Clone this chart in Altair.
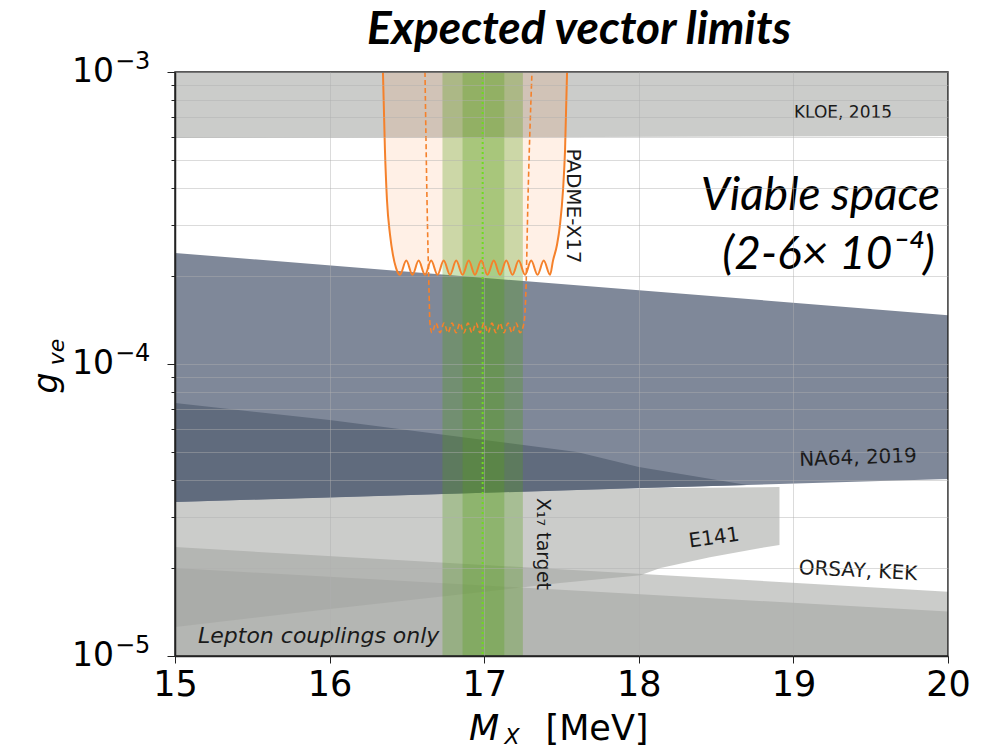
import altair as alt
import pandas as pd

# ---------------- data ----------------
kloe_x = [15.0, 20.0]
kloe_lo = [5.94e-4, 6.04e-4]
kloe_hi = [1e-3, 1e-3]

na64_x = [15.0, 20.0]
na64_hi = [2.40e-4, 1.47e-4]
na64_lo = [3.37e-5, 4.04e-5]

na64b_x = [15.0, 16.0, 17.0, 17.6, 18.0, 18.7]
na64b_hi = [7.35e-5, 6.43e-5, 5.49e-5, 5.0e-5, 4.44e-5, 3.85e-5]
na64b_lo = [3.37e-5, 3.49e-5, 3.62e-5, 3.70e-5, 3.76e-5, 3.85e-5]

e141_x = [15.0, 16.0, 17.0, 17.49, 18.01, 18.14, 18.46, 18.78, 18.91]
e141_hi = [3.6e-5, 3.65e-5, 3.7e-5, 3.72e-5, 3.75e-5, 3.76e-5, 3.77e-5, 3.78e-5, 3.79e-5]
e141_lo = [1.256e-5, 1.45e-5, 1.66e-5, 1.78e-5, 1.89e-5, 2.0e-5, 2.18e-5, 2.34e-5, 2.40e-5]

orsay_x = [15.0, 20.0]
orsay_hi = [2.36e-5, 1.66e-5]
orsay_lo = [1e-5, 1e-5]

kek_x = [15.0, 20.0]
kek_hi = [2.0e-5, 1.42e-5]
kek_lo = [1e-5, 1e-5]

# X17 target bands
band_outer = [16.73, 17.25]
band_inner = [16.86, 17.13]
target_center = [16.99]

# PADME-X17 expected limit (solid)
padme_x = [16.345, 16.358, 16.371, 16.391, 16.410, 16.430,
           16.455, 16.496, 16.536, 16.576, 16.617, 16.657, 16.698, 16.738,
           16.779, 16.819, 16.860, 16.900, 16.940, 16.981, 17.021, 17.062,
           17.102, 17.143, 17.183, 17.223, 17.264, 17.304, 17.345, 17.385,
           17.426,
           17.445, 17.471, 17.490, 17.510, 17.523, 17.536]
padme_g = [1e-3, 5.41e-4, 3.65e-4, 2.77e-4, 2.36e-4, 2.13e-4,
           2.02e-4, 2.26e-4, 2.02e-4, 2.26e-4, 2.02e-4, 2.26e-4, 2.02e-4, 2.26e-4,
           2.02e-4, 2.26e-4, 2.02e-4, 2.26e-4, 2.02e-4, 2.26e-4, 2.02e-4, 2.26e-4,
           2.02e-4, 2.26e-4, 2.02e-4, 2.26e-4, 2.02e-4, 2.26e-4, 2.02e-4, 2.26e-4,
           2.02e-4,
           2.26e-4, 2.56e-4, 2.99e-4, 3.95e-4, 5.41e-4, 1e-3]

# PADME-X17 (dashed)
padme2_x = [16.617, 16.630, 16.643, 16.649,
            16.662, 16.688, 16.714, 16.740, 16.766, 16.792, 16.818, 16.843,
            16.869, 16.895, 16.921, 16.947, 16.973, 16.999, 17.025, 17.050,
            17.076, 17.102, 17.128, 17.154, 17.180, 17.206, 17.232,
            17.257, 17.270, 17.283, 17.309]
padme2_g = [1e-3, 3.65e-4, 1.79e-4, 1.38e-4,
            1.28e-4, 1.38e-4, 1.28e-4, 1.38e-4, 1.28e-4, 1.38e-4, 1.28e-4, 1.38e-4,
            1.28e-4, 1.38e-4, 1.28e-4, 1.38e-4, 1.28e-4, 1.38e-4, 1.28e-4, 1.38e-4,
            1.28e-4, 1.38e-4, 1.28e-4, 1.38e-4, 1.28e-4, 1.38e-4, 1.28e-4,
            1.38e-4, 1.79e-4, 3.65e-4, 1e-3]

x_ticks = [15, 16, 17, 18, 19, 20]
y_ticks = [1e-5, 2e-5, 3e-5, 4e-5, 5e-5, 6e-5, 7e-5, 8e-5, 9e-5,
           1e-4, 2e-4, 3e-4, 4e-4, 5e-4, 6e-4, 7e-4, 8e-4, 9e-4, 1e-3]
y_decades = [1e-3, 1e-4, 1e-5]
y_exponents = ["\u22123", "\u22124", "\u22125"]

# ---------------- encodings ----------------
W, H = 773, 584
xscale = alt.Scale(domain=[15, 20], nice=False, zero=False)
yscale = alt.Scale(type="log", domain=[1e-5, 1e-3], nice=False)

xaxis = alt.Axis(values=x_ticks, title=None, labelFontSize=35, labelFont="DejaVu Sans",
                 labelColor="black", tickSize=7, tickColor="#222", domainColor="#222",
                 domainWidth=1.5, labelPadding=4, grid=True, gridColor="#b0b0b0",
                 gridOpacity=0.45, zindex=1, labelFlush=False)
yaxis = alt.Axis(values=y_ticks, title=None, labels=False,
                 tickSize={"condition": {"test": "datum.value == 0.001 || datum.value == 0.0001 || datum.value == 0.00001", "value": 8}, "value": 4},
                 tickColor="#222", domainColor="#222", domainWidth=1.5,
                 grid=True, gridColor="#b0b0b0", gridOpacity=0.45, zindex=1)

X = alt.X("x:Q", scale=xscale, axis=xaxis)
Y = alt.Y("hi:Q", scale=yscale, axis=yaxis)


def band(xs, his, los, color, opacity):
    df = pd.DataFrame({"x": xs, "hi": his, "lo": los})
    return alt.Chart(df).mark_area(color=color, opacity=opacity, interpolate="linear").encode(
        x=X, y=Y, y2="lo:Q")


GRAY = "#a2a4a1"
GOP = 0.56
kloe = band(kloe_x, kloe_hi, kloe_lo, GRAY, GOP)
kek = band(kek_x, kek_hi, kek_lo, GRAY, GOP)
orsay = band(orsay_x, orsay_hi, orsay_lo, GRAY, GOP)
e141 = band(e141_x, e141_hi, e141_lo, GRAY, GOP)
na64 = band(na64_x, na64_hi, na64_lo, "#7f8899", 1.0)
na64b = band(na64b_x, na64b_hi, na64b_lo, "#606b7d", 1.0)

padme_df = pd.DataFrame({"x": padme_x, "hi": padme_g})
padme_fill = alt.Chart(padme_df).mark_area(color="#ff8a3a", opacity=0.13, interpolate="monotone").encode(
    x=X, y=Y, y2=alt.datum(1e-3))
padme_line = alt.Chart(padme_df).mark_line(color="#f5812b", strokeWidth=2, interpolate="monotone").encode(
    x=X, y=Y)
padme2_df = pd.DataFrame({"x": padme2_x, "hi": padme2_g})
padme2_line = alt.Chart(padme2_df).mark_line(color="#f5812b", strokeWidth=1.6, strokeDash=[5, 3],
                                             interpolate="monotone").encode(x=X, y=Y)

GREEN = "#55a018"
outer_df = pd.DataFrame({"x": [band_outer[0]], "x2": [band_outer[1]]})
inner_df = pd.DataFrame({"x": [band_inner[0]], "x2": [band_inner[1]]})
green_outer = alt.Chart(outer_df).mark_rect(color=GREEN, opacity=0.3).encode(
    x=X, x2="x2:Q", y=alt.datum(1e-3), y2=alt.datum(1e-5))
green_inner = alt.Chart(inner_df).mark_rect(color=GREEN, opacity=0.3).encode(
    x=X, x2="x2:Q", y=alt.datum(1e-3), y2=alt.datum(1e-5))
center_df = pd.DataFrame({"x": target_center})
green_line = alt.Chart(center_df).mark_rule(color="#6edc1e", strokeWidth=2, strokeDash=[2, 3]).encode(
    x=X, y=alt.datum(1e-3), y2=alt.datum(1e-5))

frame = alt.Chart(pd.DataFrame({"x": [15], "x2": [20]})).mark_rect(
    filled=False, stroke="#222", strokeWidth=1.5).encode(
    x=X, x2="x2:Q", y=alt.datum(1e-3), y2=alt.datum(1e-5))


def label(text, x, y, size=16, angle=0, align="center", style="normal", weight="normal",
          font="DejaVu Sans", color="#1a1a1a"):
    kw = dict(align=align, baseline="middle", fontSize=size, font=font, color=color,
              fontStyle=style, fontWeight=weight)
    if angle:
        kw["angle"] = angle
    return alt.Chart(pd.DataFrame({"t": [text]})).mark_text(**kw).encode(
        x=alt.value(x), y=alt.value(y), text="t:N")


texts = [
    label("KLOE, 2015", 668, 41, 17),
    label("PADME-X17", 398, 134, 20, angle=90),
    label("NA64, 2019", 683, 386, 20, angle=358),
    label("E141", 539, 466, 20, angle=352),
    label("ORSAY, KEK", 683, 499, 20, angle=3),
    label("X\u2081\u2087 target", 368, 472, 19, angle=90),
    label("Lepton couplings only", 23, 564, 22, align="left", style="italic"),
    label("Viable space", 765, 124, 46, align="right", style="italic", font="Lato", color="black"),
    label("(2-6\u00d7 10\u207b\u2074)", 760, 183, 46, align="right", style="italic", font="Lato", color="black"),
    label("Expected vector limits", 404, -42, 46, style="italic", weight="bold", font="Lato", color="black"),
    # axis titles
    label("M", 309, 657, 35, style="italic", color="black"),
    label("X", 337, 665, 22, style="italic", color="black"),
    label("[MeV]", 422, 657, 35, color="black"),
    label("g", -128, 311, 33, angle=270, style="italic", color="black"),
    label("ve", -118, 280, 22, angle=270, style="italic", color="black"),
]

dec_df = pd.DataFrame({"hi": y_decades, "e": y_exponents})
ylab10 = alt.Chart(dec_df).mark_text(align="right", baseline="middle", fontSize=33,
                                     font="DejaVu Sans", color="black").encode(
    x=alt.value(-61), y=Y, text=alt.value("10"))
ylabexp = alt.Chart(dec_df).mark_text(align="left", baseline="middle", fontSize=24, dy=-10,
                                      font="DejaVu Sans", color="black").encode(
    x=alt.value(-60), y=Y, text="e:N")

chart = alt.layer(
    kloe, kek, orsay, e141, na64, na64b, padme_fill, green_outer, green_inner,
    green_line, padme_line, padme2_line, frame, ylab10, ylabexp, *texts
).properties(
    width=W, height=H,
    autosize=alt.AutoSizeParams(type="none"),
    padding={"left": 175, "top": 72, "right": 38, "bottom": 95},
).configure_view(stroke=None).configure(background="white")

chart.save("out.html", embed_options={"renderer": "svg", "actions": False})
